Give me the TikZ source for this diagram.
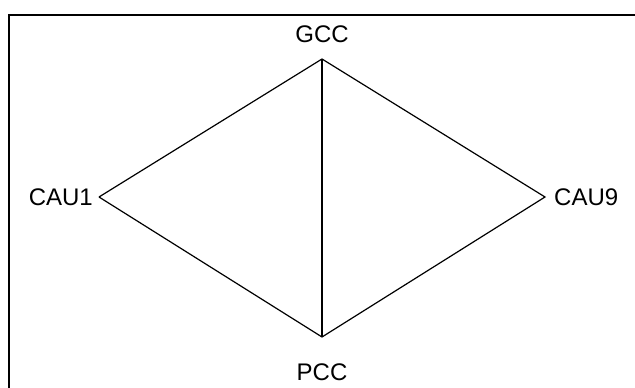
\documentclass[tikz,border=0pt]{standalone}
\usepackage{fontspec}
\setmainfont{Liberation Sans}
\begin{document}
\begin{tikzpicture}[x=1pt,y=1pt,
  lbl/.style={font=\fontsize{24}{28}\selectfont, inner sep=0pt},
  edge/.style={line width=1.2pt, line join=miter},
  frame/.style={line width=2pt}]
\useasboundingbox (0,0) rectangle (635,388);
\begin{scope}
  \clip (0,0) rectangle (635,388);
  \draw[frame] (9,-20) -- (9,373) -- (660,373);
\end{scope}
% vertices of the network
\coordinate (gcc) at (322,329);
\coordinate (pcc) at (322,51);
\coordinate (cau1) at (99,191);
\coordinate (cau9) at (545,191);
% labels
\node[lbl] (gccl) at (322,354) {GCC};
\node[lbl] (pccl) at (322,16) {PCC};
\node[lbl, anchor=east] (cau1l) at (93,191) {CAU1};
\node[lbl, anchor=west] (cau9l) at (554,191) {CAU9};
% links
\draw[edge] (cau1) -- (gcc) -- (cau9) -- (pcc) -- (cau1);
\draw[edge] (gcc) -- (pcc);
\end{tikzpicture}
\end{document}
